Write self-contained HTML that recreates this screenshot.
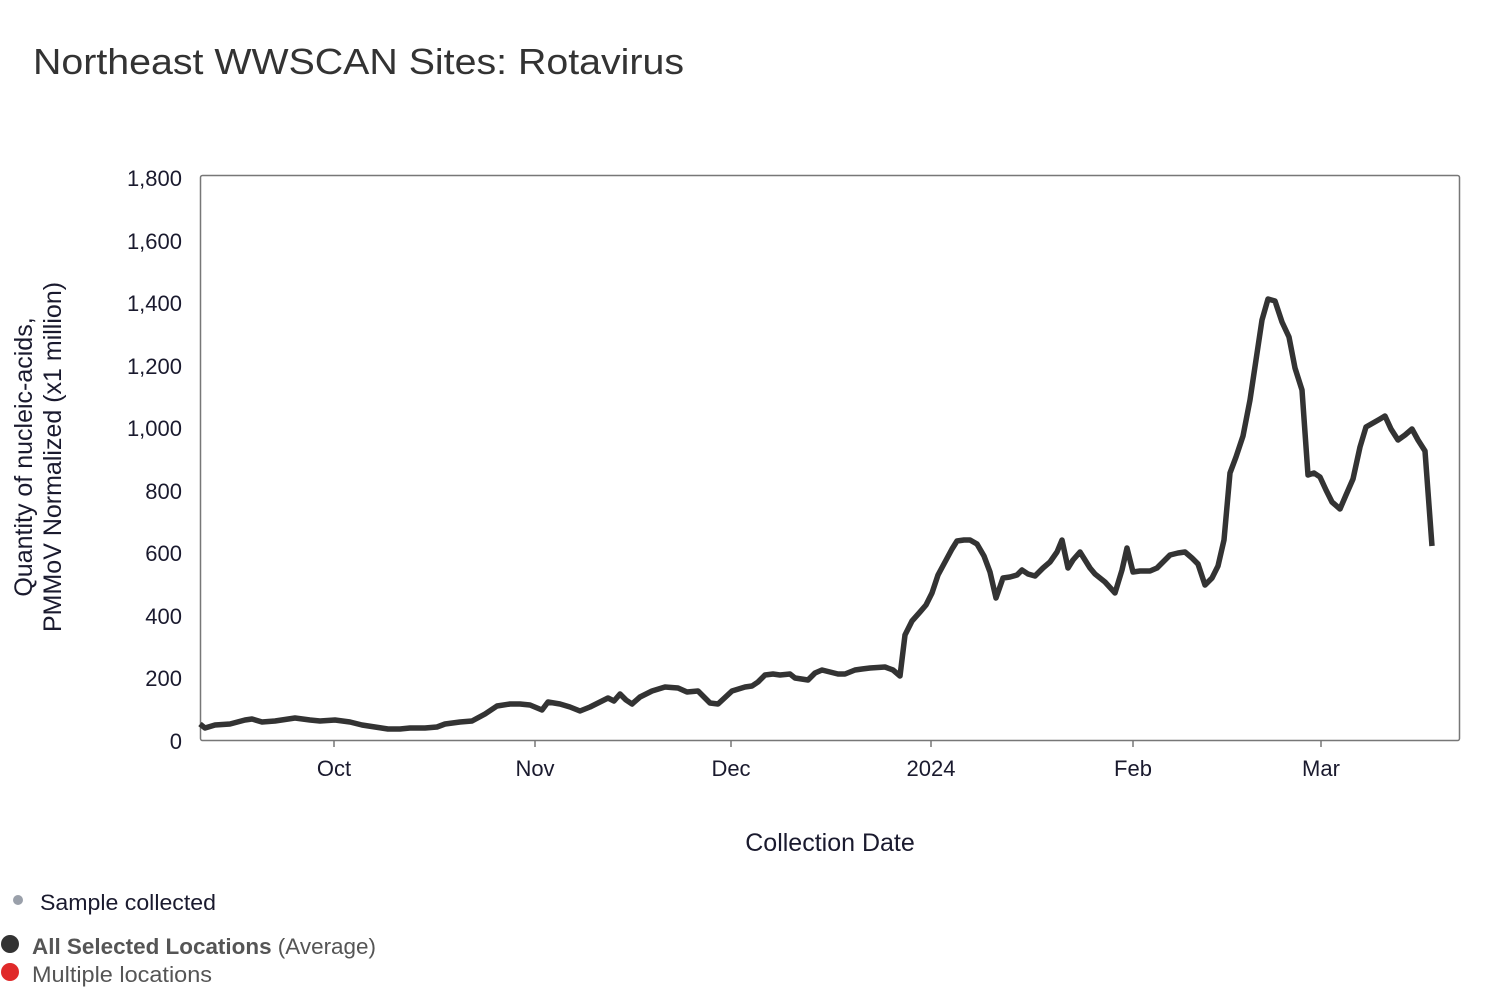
<!DOCTYPE html>
<html><head><meta charset="utf-8"><style>
html,body{margin:0;padding:0;background:#fff;width:1500px;height:1002px;overflow:hidden;font-family:"Liberation Sans",sans-serif;}
</style></head><body>
<svg width="1500" height="1002" xmlns="http://www.w3.org/2000/svg" font-family="Liberation Sans, sans-serif">
<text x="33" y="74" font-size="36" fill="#333" textLength="651" lengthAdjust="spacingAndGlyphs">Northeast WWSCAN Sites: Rotavirus</text>
<rect x="200.5" y="175.5" width="1259" height="565" fill="none" stroke="#777" stroke-width="1.5" rx="2"/>
<g font-size="22" fill="#1a1a2e" text-anchor="end">
<text x="182" y="186">1,800</text>
<text x="182" y="249">1,600</text>
<text x="182" y="311">1,400</text>
<text x="182" y="374">1,200</text>
<text x="182" y="436">1,000</text>
<text x="182" y="499">800</text>
<text x="182" y="561">600</text>
<text x="182" y="624">400</text>
<text x="182" y="686">200</text>
<text x="182" y="749">0</text>
</g>
<g stroke="#777" stroke-width="1.5">
<line x1="334" y1="740" x2="334" y2="747"/><line x1="535" y1="740" x2="535" y2="747"/>
<line x1="731" y1="740" x2="731" y2="747"/><line x1="931" y1="740" x2="931" y2="747"/>
<line x1="1133" y1="740" x2="1133" y2="747"/><line x1="1321" y1="740" x2="1321" y2="747"/>
</g>
<g font-size="22" fill="#1a1a2e" text-anchor="middle">
<text x="334" y="776">Oct</text><text x="535" y="776">Nov</text><text x="731" y="776">Dec</text>
<text x="931" y="776">2024</text><text x="1133" y="776">Feb</text><text x="1321" y="776">Mar</text>
<text x="830" y="851" font-size="25">Collection Date</text>
</g>
<g font-size="25" fill="#1a1a2e" text-anchor="middle" transform="translate(45,457) rotate(-90)">
<text x="0" y="-13">Quantity of nucleic-acids,</text>
<text x="0" y="16">PMMoV Normalized (x1 million)</text>
</g>
<polyline fill="none" stroke="#333" stroke-width="5.5" stroke-linejoin="round" points="200,724 205,728 215,725 230,724 245,720 252,719 262,722 275,721 295,718 310,720 320,721 335,720 350,722 362,725 375,727 388,729 400,729 410,728 425,728 437,727 445,724 460,722 472,721 485,714 497,706 510,704 520,704 530,705 542,710 548,702 560,704 570,707 580,711 590,707 600,702 608,698 614,701 620,694 626,700 632,704 640,697 652,691 665,687 678,688 687,692 698,691 710,703 718,704 732,691 745,687 752,686 758,682 765,675 773,674 780,675 790,674 795,678 808,680 815,673 822,670 830,672 838,674 845,674 855,670 862,669 870,668 885,667 893,670 900,676 905,635 912,621 920,612 926,605 932,593 938,575 945,562 952,549 957,541 964,540 970,540 977,544 984,556 990,572 996,598 1003,578 1010,577 1017,575 1022,570 1028,574 1035,576 1043,568 1050,562 1057,552 1062,540 1068,568 1073,560 1080,552 1090,568 1095,574 1105,582 1115,593 1122,570 1127,548 1133,572 1140,571 1150,571 1157,568 1163,562 1170,555 1178,553 1185,552 1192,558 1198,564 1205,585 1212,578 1218,566 1224,540 1230,473 1236,457 1243,436 1250,400 1256,360 1262,320 1268,299 1275,301 1282,322 1289,337 1295,368 1302,390 1308,475 1314,473 1320,477 1326,490 1332,502 1340,509 1346,495 1353,479 1360,447 1366,427 1373,423 1380,419 1385,416 1391,429 1398,440 1405,435 1412,429 1418,440 1425,451 1432,546"/>
<circle cx="18" cy="900" r="5" fill="#9aa0aa"/>
<text x="40" y="910" font-size="22" fill="#1a1a2e" textLength="176" lengthAdjust="spacingAndGlyphs">Sample collected</text>
<circle cx="10" cy="944" r="9" fill="#333"/>
<text x="32" y="954" font-size="22" fill="#555" textLength="344" lengthAdjust="spacingAndGlyphs"><tspan font-weight="bold">All Selected Locations</tspan> (Average)</text>
<circle cx="10" cy="972" r="9" fill="#e02a2a"/>
<text x="32" y="982" font-size="22" fill="#555" textLength="180" lengthAdjust="spacingAndGlyphs">Multiple locations</text>
</svg>
</body></html>
